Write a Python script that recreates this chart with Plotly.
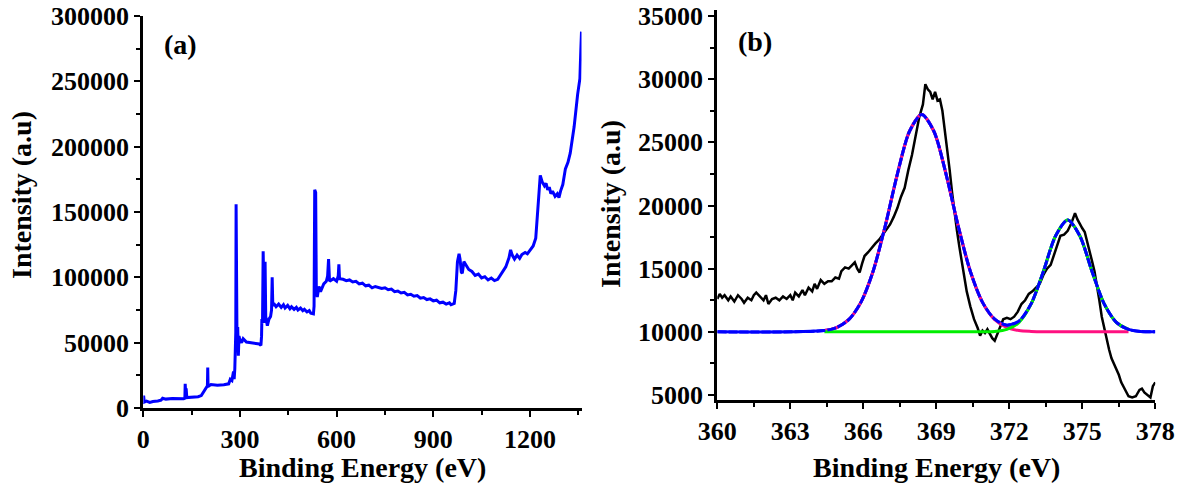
import plotly.graph_objects as go

# ---------------- Panel (a): XPS survey spectrum ----------------
survey_energy = [0, 1, 3, 10, 20, 30, 45, 55, 60, 70, 90, 110, 125, 129, 130, 132, 133, 135, 150, 170, 180, 190,
                 195, 199, 200, 201, 210, 230, 250, 265, 270, 275, 280, 282, 284, 285, 287, 288, 289, 291, 293,
                 295, 297, 300, 305, 310, 320, 340, 360, 365, 367, 368, 370, 372, 374, 376, 378, 380, 385, 390,
                 395, 398, 400, 402, 405, 412, 420, 428, 435, 440, 448, 455, 460, 468, 475, 480, 488, 495, 500,
                 508, 515, 520, 528, 530, 532, 535, 537, 540, 545, 550,
                 560, 568, 572, 575, 578, 590, 600, 605, 607, 609, 620, 630, 640, 650, 660, 670, 680, 690, 700,
                 710, 720, 730, 740, 750, 760, 770, 780, 790, 800, 810, 820, 830, 840, 850, 860, 870, 880, 890,
                 900, 910, 920, 930, 940, 950, 955, 965, 970, 975, 980, 983, 987, 990, 995,
                 1000, 1010, 1020, 1030, 1040, 1050, 1060, 1070, 1080, 1090, 1100, 1115, 1125, 1135, 1140, 1145,
                 1152, 1160, 1168, 1175, 1185, 1192, 1200, 1210, 1218, 1222, 1225, 1228, 1232, 1238, 1245, 1250,
                 1255, 1260, 1265, 1270, 1278, 1285, 1290, 1295, 1302, 1310, 1318, 1325,
                 1337, 1348, 1355, 1358, 1360]
survey_intensity = [4000, 9500, 4500, 5200, 4300, 5000, 5400, 6000, 7500, 6800, 7300, 6800, 7000, 7500, 18500,
                    9000, 15000, 8000, 8200, 8600, 9500, 14000,
                    15500, 17000, 31000, 16500, 18000, 17500, 17800, 18500, 22000, 21000, 28000, 22000, 30000,
                    55000, 58000, 156000, 60000, 45000, 62000,
                    40000, 55000, 52000, 50000, 53000, 50500, 49500, 49000, 48000, 55000, 68000, 65000, 120000,
                    80000, 65000, 112000, 70000, 63000, 68000,
                    70000, 75000, 100000, 78000, 80000, 77500, 79500, 77000, 79000, 76500, 78500, 76000, 77500,
                    75500, 77000, 75000, 76500, 74500, 75500,
                    73500, 74500, 72500, 72000, 78000, 167000, 165000, 90000, 85000, 93000, 89000,
                    95000, 97000, 101000, 114000, 97000, 99000, 97000, 101000, 110000, 99000, 98500, 97500, 98000,
                    96500, 97000, 95000, 95500, 93500, 94000,
                    92000, 93000, 92500, 91500, 92000, 90500, 91000, 89000, 89500, 88000, 88500, 86500, 87000,
                    85500, 86000, 84000, 84500, 83000, 83500,
                    82000, 82500, 80500, 81000, 79500, 80500, 79000, 80000, 90000, 112000, 118000, 114000, 104000,
                    103000, 112000,
                    110000, 106000, 104500, 101500, 102500, 99500, 100500, 98000, 99500, 97500, 98500, 104000,
                    108000, 115000, 121000, 117000,
                    114000, 117000, 114500, 117500, 119000, 118000, 121000, 124000, 130000, 145000, 160000, 170000,
                    178000, 173000, 170000, 172000,
                    167000, 169000, 164000, 166000, 162000, 164000, 161000, 166000, 171000, 183000, 188000, 195000,
                    215000, 240000, 252000, 275000, 288000]

# ---------------- Panel (b): high-resolution spectrum ----------------
hr_energy = [360.0, 360.1, 360.2, 360.3, 360.45, 360.55, 360.7, 360.85, 361.0, 361.1, 361.25, 361.4, 361.5,
             361.6, 361.75, 361.9, 362.0, 362.1, 362.25, 362.4, 362.55, 362.7, 362.85, 363.0, 363.1, 363.2,
             363.35, 363.5, 363.6, 363.75, 363.9, 364.0, 364.1, 364.25, 364.4, 364.55, 364.7, 364.85, 365.0,
             365.1, 365.25, 365.4, 365.55, 365.65, 365.75, 365.85, 365.95, 366.05, 366.2, 366.35, 366.5,
             366.65, 366.8, 366.95, 367.1, 367.25, 367.4, 367.55, 367.7, 367.85, 368.0, 368.15, 368.3, 368.45,
             368.55, 368.65, 368.75, 368.85, 368.95, 369.05, 369.15, 369.25, 369.35, 369.45, 369.55, 369.65,
             369.75, 369.85, 369.95, 370.05, 370.15, 370.25, 370.4, 370.55, 370.7, 370.8, 370.9, 371.0, 371.1,
             371.2, 371.3, 371.4, 371.5, 371.6, 371.75, 371.9, 372.05, 372.2, 372.35, 372.5, 372.65, 372.8,
             372.95, 373.1, 373.25, 373.4, 373.55, 373.7, 373.85, 374.0, 374.1, 374.25, 374.4, 374.55, 374.7,
             374.8, 374.9, 375.0, 375.1, 375.2, 375.3, 375.4, 375.5, 375.6, 375.7, 375.8, 375.9, 376.0, 376.1,
             376.2, 376.35, 376.5, 376.6, 376.75, 376.9, 377.05, 377.2, 377.35, 377.45, 377.55, 377.7, 377.8,
             377.9, 378.0]
hr_intensity = [12600, 13000, 12700, 12900, 12500, 12800, 12400, 12900, 12600, 12300, 12700, 12500, 12900,
                13100, 12800, 12500, 12900, 12200, 12600, 12700, 12500, 12800, 12600, 12900, 12500, 13100,
                12800, 13300, 12900, 13500, 13200, 13800, 13400, 14100, 13800, 14000, 14000, 14300, 14200,
                14800, 15100, 15000, 15300, 15500, 15000, 14700, 15400, 16000, 16300, 16700, 17000, 17300,
                17700, 18000, 18500, 19100, 19800, 20700, 21400, 22800, 24000, 25500, 27000, 28000, 29600,
                29200, 29000, 28400, 29000, 28300, 28400, 27500, 26000, 24500, 22800, 21000, 19300, 18000,
                16700, 15500, 14300, 13200, 12000, 11000, 10300, 9700, 10100, 9900, 10200, 9800, 9500, 9300,
                9800, 10400, 11000, 11100, 11000, 11200, 11600, 12200, 12500, 13000, 13200, 13500, 13800,
                14500, 15000, 15300, 16200, 17000, 17600, 17700, 18000, 18600, 19400, 18900, 18500, 18200,
                17900, 17200, 16500, 15600, 14800, 13800, 12500, 11200, 10300, 9300, 8600, 7900, 7300, 6600,
                6000, 5400, 4900, 4800, 4900, 5400, 5500, 5200, 5000, 4800, 5700, 6000]

# fitted curves
fit_energy = [360.0, 364.4, 364.9, 365.4, 365.9, 366.4, 366.9, 367.4, 367.9, 368.4, 368.9, 369.4, 369.9, 370.4,
              370.9, 371.4, 371.9, 372.4, 372.9, 373.4, 373.9, 374.4, 374.9, 375.4, 375.9, 376.4, 376.9,
              377.4, 378.0]
fit_envelope = [10000, 10100, 10340, 10960, 12330, 14780, 18370, 22490, 25880, 27200, 25880, 22490, 18370,
                14780, 12330, 11000, 10530, 10850, 12230, 14780, 17590, 18850, 17590, 14780, 12210, 10750,
                10190, 10030, 10000]
comp_energy = [364.4, 364.9, 365.4, 365.9, 366.4, 366.9, 367.4, 367.9, 368.4, 368.9, 369.4, 369.9, 370.4,
               370.9, 371.4, 371.9, 372.4, 372.9, 373.4, 373.9, 374.4, 374.9, 375.4, 375.9, 376.4, 376.9]
peak1_curve = [10100, 10340, 10960, 12330, 14780, 18370, 22490, 25880, 27200, 25880, 22490, 18370, 14780,
               12330, 10960, 10340, 10100, 10030, 10000, 10000, 10000, 10000, 10000, 10000, 10000, 10000]
peak2_curve = [10000, 10000, 10000, 10000, 10000, 10000, 10000, 10000, 10000, 10000, 10000, 10000, 10000,
               10000, 10030, 10190, 10750, 12210, 14780, 17590, 18850, 17590, 14780, 12210, 10750, 10190]

x_ticks_a = [0, 300, 600, 900, 1200]
y_ticks_a = [0, 50000, 100000, 150000, 200000, 250000, 300000]
x_ticks_b = [360, 363, 366, 369, 372, 375, 378]
y_ticks_b = [5000, 10000, 15000, 20000, 25000, 30000, 35000]

FONT = "Liberation Serif"
W, H = 1189, 486

fig = go.Figure()
fig.add_trace(go.Scatter(x=survey_energy, y=survey_intensity, mode="lines",
                         line=dict(color="#0000ff", width=3), xaxis="x", yaxis="y"))
fig.add_trace(go.Scatter(x=hr_energy, y=hr_intensity, mode="lines",
                         line=dict(color="black", width=2.5), xaxis="x2", yaxis="y2"))
fig.add_trace(go.Scatter(x=fit_energy, y=fit_envelope, mode="lines",
                         line=dict(color="#0000ff", width=3, shape="spline", smoothing=0.8), xaxis="x2", yaxis="y2"))
fig.add_trace(go.Scatter(x=comp_energy, y=peak1_curve, mode="lines",
                         line=dict(color="#ff1080", width=3, shape="spline", smoothing=0.8), xaxis="x2", yaxis="y2"))
fig.add_trace(go.Scatter(x=comp_energy, y=peak2_curve, mode="lines",
                         line=dict(color="#00ee00", width=3, shape="spline", smoothing=0.8), xaxis="x2", yaxis="y2"))
fig.add_trace(go.Scatter(x=fit_energy, y=fit_envelope, mode="lines",
                         line=dict(color="#0000ff", width=3, shape="spline", smoothing=0.8, dash="9px,2px"),
                         xaxis="x2", yaxis="y2"))

tickfont = dict(family=FONT, size=26, color="black", weight="bold")
common = dict(showline=True, linewidth=3, linecolor="black", ticks="outside", ticklen=6, tickwidth=2,
              tickcolor="black", showgrid=False, zeroline=False, tickfont=tickfont, fixedrange=True,
              automargin=False)


def px_x(p):
    return p / W


def px_y(p):
    return (H - p) / H


fig.update_layout(
    width=W, height=H, margin=dict(l=0, r=0, t=0, b=0, autoexpand=False),
    paper_bgcolor="white", plot_bgcolor="white", showlegend=False,
    xaxis=dict(domain=[px_x(143.3), px_x(581.5)], range=[0, 1360], anchor="y", tickvals=x_ticks_a,
               minor=dict(ticks="outside", ticklen=4, tickwidth=2, tickcolor="black", dtick=150, tick0=0),
               **common),
    yaxis=dict(domain=[px_y(408), px_y(16)], range=[0, 300000], anchor="x", tickvals=y_ticks_a,
               tickformat="d",
               minor=dict(ticks="outside", ticklen=4, tickwidth=2, tickcolor="black", dtick=25000, tick0=0),
               **common),
    xaxis2=dict(domain=[px_x(717.3), px_x(1155.3)], range=[360, 378], anchor="y2", tickvals=x_ticks_b,
                minor=dict(ticks="outside", ticklen=4, tickwidth=2, tickcolor="black", dtick=1.5, tick0=360),
                **common),
    yaxis2=dict(domain=[px_y(400), px_y(10)], range=[4604, 35475], anchor="x2", tickvals=y_ticks_b,
                tickformat="d",
                minor=dict(ticks="outside", ticklen=4, tickwidth=2, tickcolor="black", dtick=2500, tick0=5000),
                **common),
)

title_font = dict(family=FONT, size=28, color="black", weight="bold")
label_font = dict(family=FONT, size=28, color="black", weight="bold")
annos = [
    dict(text="Binding Energy (eV)", x=px_x(362), y=px_y(467), font=title_font),
    dict(text="Binding Energy (eV)", x=px_x(936), y=px_y(467), font=title_font),
    dict(text="Intensity (a.u)", x=px_x(21), y=px_y(195), textangle=-90, font=title_font),
    dict(text="Intensity (a.u)", x=px_x(610), y=px_y(204), textangle=-90, font=title_font),
    dict(text="(a)", x=px_x(180.5), y=px_y(44.5), font=label_font),
    dict(text="(b)", x=px_x(755), y=px_y(41), font=label_font),
]
for a in annos:
    fig.add_annotation(xref="paper", yref="paper", xanchor="center", yanchor="middle", showarrow=False, **a)

fig.write_html("out.html", config={"displayModeBar": False},
               post_script="document.body.style.margin='0';document.body.style.overflow='hidden';")
